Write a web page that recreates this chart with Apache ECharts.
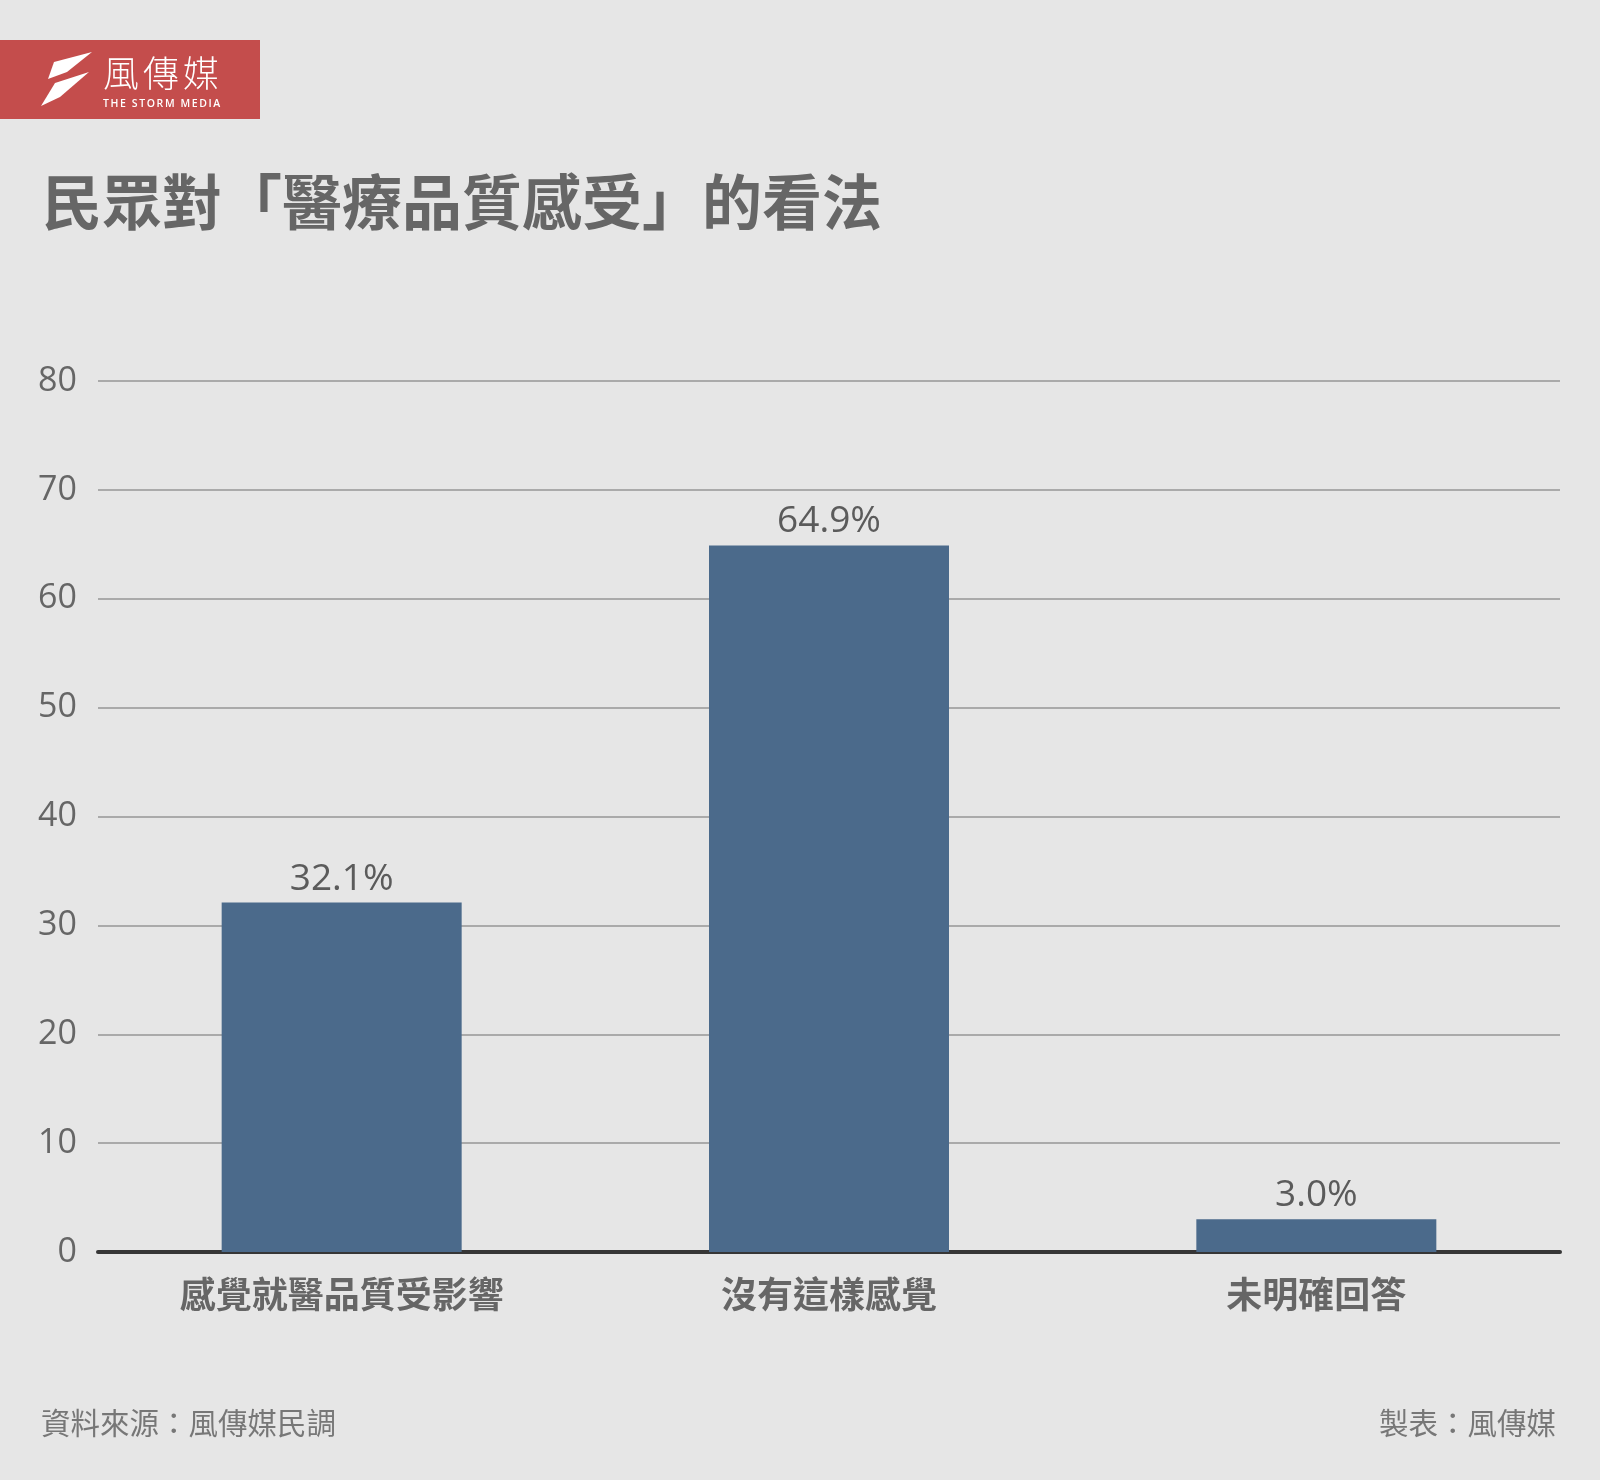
<!DOCTYPE html>
<html>
<head>
<meta charset="utf-8">
<script src="https://cdn.jsdelivr.net/npm/echarts@6/dist/echarts.min.js"></script>
<style>
html,body{margin:0;padding:0;background:#e6e6e6;}
#chart{width:1600px;height:1480px;}
</style>
</head>
<body>
<div id="chart"></div>
<script>
const categories = ['感覺就醫品質受影響', '沒有這樣感覺', '未明確回答'];
const values = [32.1, 64.9, 3.0];
const yTicks = { min: 0, max: 80, interval: 10 };
const titleText = '民眾對「醫療品質感受」的看法';
const sourceText = '資料來源：風傳媒民調';
const makerText = '製表：風傳媒';
const brandName = '風傳媒';
const brandSub = 'THE STORM MEDIA';

const chart = echarts.init(document.getElementById('chart'));
const cjk = '"Noto Sans CJK TC", "Noto Sans CJK SC", sans-serif';
const latin = '"Open Sans", "Noto Sans", sans-serif';

// letter-spaced logo text: one text element per character, advanced by its measured width + spacing
const measureCtx = document.createElement('canvas').getContext('2d');
function spaced(text, x0, y, spacing, font) {
  measureCtx.font = font;
  const out = [];
  let x = x0;
  for (const ch of text) {
    out.push({ type: 'text', x: x, y: y, style: { text: ch, fill: '#ffffff', font: font } });
    x += measureCtx.measureText(ch).width + spacing;
  }
  return out;
}

const logo = [
  { type: 'rect', left: 0, top: 40, shape: { width: 260, height: 79 }, style: { fill: '#c44d4c' } },
  { type: 'polygon', shape: { points: [[54,62],[92,52],[67,72],[48,79]] }, style: { fill: '#ffffff' } },
  { type: 'polygon', shape: { points: [[55,83],[89,72],[60,97],[41,106]] }, style: { fill: '#ffffff' } }
].concat(spaced(brandName, 103, 55, 4, '300 36px ' + cjk))
 .concat(spaced(brandSub, 103, 99, 1.6, '600 10.5px ' + latin));

chart.setOption({
  backgroundColor: '#e6e6e6',
  animation: false,
  title: [
    { text: titleText, left: 37, top: 167,
      textStyle: { fontFamily: cjk, fontSize: 60, fontWeight: 'bold', color: '#666666' } },
    { text: sourceText, left: 36, top: 1403,
      textStyle: { fontFamily: cjk, fontSize: 29.5, fontWeight: 'normal', color: '#777777' } },
    { text: makerText, right: 39, top: 1403,
      textStyle: { fontFamily: cjk, fontSize: 29.5, fontWeight: 'normal', color: '#777777' } }
  ],
  graphic: logo,
  grid: { left: 98, right: 40, top: 381, bottom: 228, containLabel: false },
  xAxis: {
    type: 'category',
    data: categories,
    axisLine: { show: true, lineStyle: { color: '#363636', width: 4 } },
    axisTick: { show: false },
    axisLabel: { margin: 24, fontFamily: cjk, fontSize: 36, fontWeight: 'bold', color: '#666666' }
  },
  yAxis: {
    type: 'value',
    min: yTicks.min, max: yTicks.max, interval: yTicks.interval,
    axisLine: { show: false },
    axisTick: { show: false },
    splitLine: { lineStyle: { color: '#aaaaaa', width: 2 } },
    axisLabel: { margin: 21, fontFamily: latin, fontSize: 34, color: '#666666' }
  },
  series: [{
    type: 'bar',
    data: values,
    barWidth: 240,
    itemStyle: { color: '#4b6a8b' },
    label: {
      show: true, position: 'top', distance: 5,
      fontFamily: latin, fontSize: 37, color: '#5b5b5b',
      formatter: p => p.value.toFixed(1) + '%'
    }
  }]
});
</script>
</body>
</html>
